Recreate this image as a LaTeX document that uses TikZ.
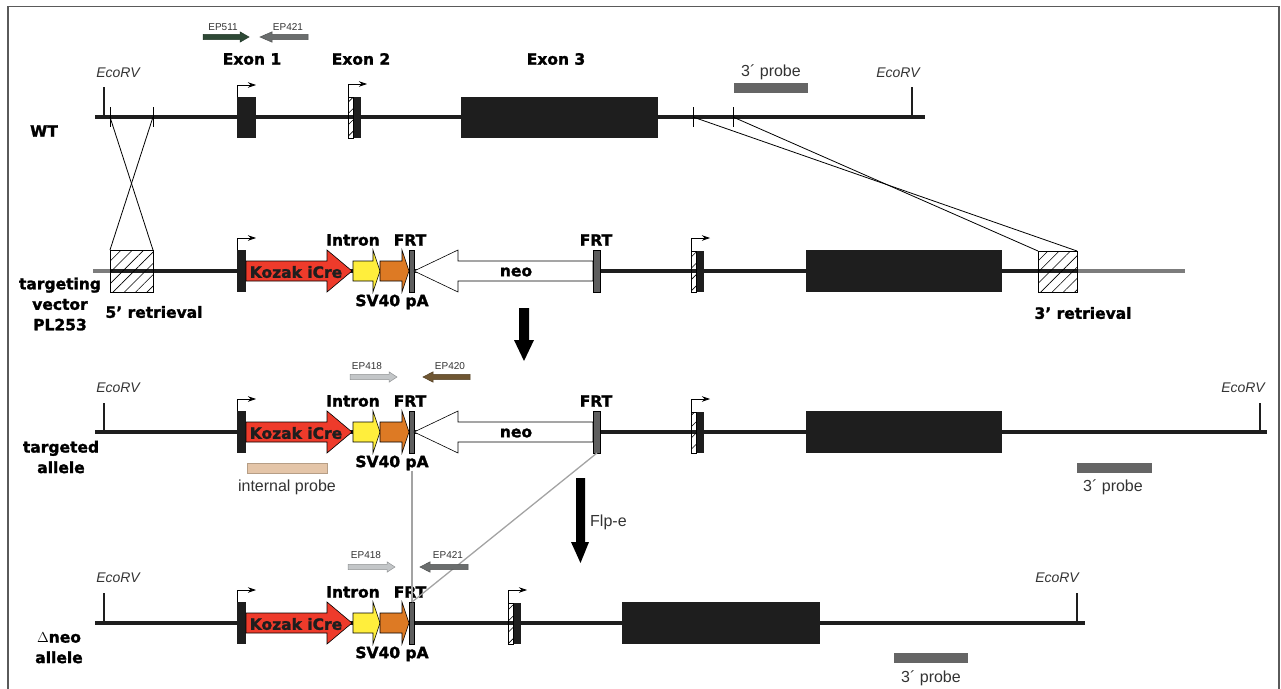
\documentclass[tikz,border=0pt]{standalone}
\usepackage{fontspec}
\setmainfont{Liberation Sans}
\newfontfamily\heavyfont{DejaVu Sans Bold}[FakeBold=1.6]
\usepackage{tikz}
\usetikzlibrary{arrows.meta,patterns.meta}

\definecolor{dnaC}{HTML}{1E1E1E}
\definecolor{frameC}{HTML}{5A5A5A}
\definecolor{creC}{HTML}{EE3B2B}
\definecolor{intronC}{HTML}{FFEE3C}
\definecolor{pAC}{HTML}{DD7A24}
\definecolor{frtC}{HTML}{5E5E5E}
\definecolor{vecC}{HTML}{7C7C7C}
\definecolor{probeC}{HTML}{656565}
\definecolor{intprobeC}{HTML}{E4C5A8}
\definecolor{linkC}{HTML}{A3A3A3}
\definecolor{epgreen}{HTML}{2E4936}
\definecolor{epgrey}{HTML}{6A6D6D}
\definecolor{eplight}{HTML}{C3C6C8}
\definecolor{epbrown}{HTML}{6F5632}
\definecolor{labC}{HTML}{333333}

% block arrow: tail x, head base x, tip x, centre y, fill
\newcommand\blockarr[5]{%
  \filldraw[fill=#5, draw=black, line width=0.6pt] (#1,#4-10) -- (#2,#4-10) -- (#2,#4-21) -- (#3,#4) -- (#2,#4+21) -- (#2,#4+10) -- (#1,#4+10) -- cycle;}
% primer: tail x, head base x, tip x, y, colour
\newcommand\primer[5]{%
  \filldraw[fill=#5, draw=#5!75!black, line width=0.5pt] (#1,#4-2.7) -- (#2,#4-2.7) -- (#2,#4-5.2) -- (#3,#4) -- (#2,#4+5.2) -- (#2,#4+2.7) -- (#1,#4+2.7) -- cycle;}
% exon 2 (hatched 5' part + black part + promoter), x and line y
\newcommand\exontwo[2]{%
  \filldraw[hatchbox] (#1,#2-20) rectangle (#1+5.5,#2+21);
  \fill[dnaC] (#1+5.5,#2-20) rectangle (#1+13,#2+21);
  \draw[prom] (#1,#2-20) -- ++(0,-13) -- ++(19,0);}

\begin{document}
\begin{tikzpicture}[x=1pt, y=-1pt,
  dna/.style={line width=4pt, draw=dnaC},
  hatchbox/.style={draw=black, line width=0.6pt, pattern={Lines[angle=45,distance=8pt,line width=0.6pt]}},
  site/.style={line width=1.2pt, draw=dnaC},
  cross/.style={line width=0.8pt, draw=black},
  prom/.style={line width=0.8pt, -{Stealth[length=8pt,width=5.5pt]}},
  link/.style={line width=1.3pt, draw=linkC},
  heavy/.style={font=\heavyfont\fontsize{15.5}{20.5}\selectfont, inner sep=0pt, align=center},
  sitelab/.style={font=\itshape\fontsize{14}{16}\selectfont, text=labC, inner sep=0pt},
  eplab/.style={font=\fontsize{10}{12}\selectfont, text=labC, inner sep=0pt},
  probelab/.style={font=\fontsize{16}{18}\selectfont, text=labC, inner sep=0pt}]
  \useasboundingbox (0,0) rectangle (1281,688);
  \draw[line width=1.5pt, draw=frameC] (8,700) -- (8,6.5) -- (1279,6.5) -- (1279,700);

  % WT allele
  \draw[dna] (95,117) -- (925,117);
  \draw[site] (104,117) -- (104,87);
  \draw[site] (912,117) -- (912,87);
  \node[sitelab] (rv1) at (118,73) {EcoRV};
  \node[sitelab] (rv2) at (898,73) {EcoRV};
  \fill[dnaC] (237,97) rectangle (256,138);
  \draw[prom] (237,97) -- ++(0,-12) -- ++(19,0);
  \exontwo{348}{117}
  \fill[dnaC] (461,97) rectangle (658,138);
  \node[heavy] (ex1) at (252,59) {Exon 1};
  \node[heavy] (ex2) at (361,59) {Exon 2};
  \node[heavy] (ex3) at (556,59) {Exon 3};
  \primer{203}{240}{249}{37}{epgreen}
  \primer{308}{272}{260}{37}{epgrey}
  \node[eplab] (ep511) at (223,27) {EP511};
  \node[eplab] (ep421a) at (288,27) {EP421};
  \fill[probeC] (734,83) rectangle (808,93);
  \node[probelab] (pr1) at (771,72) {3´ probe};
  \node[heavy] (wt) at (44,131) {WT};

  % homology arms
  \foreach \x in {110,153,693,733} \draw[cross] (\x,107) -- (\x,127);
  \coordinate (t5a) at (110,117); \coordinate (t5b) at (153,117);
  \coordinate (t3a) at (693,117); \coordinate (t3b) at (733,117);
  \coordinate (r5a) at (110,250); \coordinate (r5b) at (153,250);
  \coordinate (r3a) at (1038,251); \coordinate (r3b) at (1077,251);
  \draw[cross] (t5a) -- (r5b); \draw[cross] (t5b) -- (r5a);
  \draw[cross] (t3a) -- (r3b); \draw[cross] (t3b) -- (r3a);

  % lines of the other alleles
  \draw[line width=4pt, draw=vecC] (93,271) -- (1185,271);
  \draw[dna] (110,271) -- (1077,271);
  \draw[dna] (95,432) -- (1267,432);
  \draw[dna] (95,623) -- (1085,623);

  % targeting vector
  \filldraw[hatchbox] (110,250) rectangle (153,292);
  \filldraw[hatchbox] (1038,251) rectangle (1077,292);
  \node[heavy] (ret5) at (154,312) {5’ retrieval};
  \node[heavy] (ret3) at (1083,313) {3’ retrieval};
  \node[heavy] (tv) at (60,304) {targeting\\vector\\PL253};

  % Cre cassette, the same in three alleles
  \foreach \y in {271,432,623} {
    \fill[dnaC] (237,\y-21) rectangle (246,\y+21);
    \draw[prom] (237,\y-21) -- ++(0,-12) -- ++(19,0);
    \blockarr{246}{327}{352}{\y}{creC}
    \blockarr{353}{373}{380}{\y}{intronC}
    \blockarr{380}{402}{409}{\y}{pAC}
    \filldraw[fill=frtC, draw=black, line width=0.6pt] (409,\y-21) rectangle (414,\y+21);
    \coordinate (frtA\y) at (412,\y+21);
    \coordinate (frtAtop\y) at (412,\y-21);
    \node[heavy, text=dnaC] (cre\y) at (296,\y+1) {Kozak iCre};
    \node[heavy] (in\y) at (353,\y-31) {Intron};
    \node[heavy] (frt\y) at (410,\y-31) {FRT};
    \node[heavy] (sv\y) at (392,\y+31) {SV40 pA};
  }
  % neo cassette
  \foreach \y in {271,432} {
    \blockarr{593}{458}{414}{\y}{white}
    \filldraw[fill=frtC, draw=black, line width=0.6pt] (593,\y-21) rectangle (600,\y+21);
    \coordinate (frtB\y) at (597,\y+21);
    \node[heavy] (neo\y) at (516,\y+1) {neo};
    \node[heavy] (frtb\y) at (596,\y-31) {FRT};
    \exontwo{691}{\y}
    \fill[dnaC] (806,\y-21) rectangle (1002,\y+21);
  }
  \fill (519,308) -- (529,308) -- (529,340) -- (534,340) -- (524,361) -- (514,340) -- (519,340) -- cycle;

  % targeted allele
  \draw[site] (104,432) -- (104,403);
  \draw[site] (1260,432) -- (1260,403);
  \node[sitelab] (rv3) at (118,388) {EcoRV};
  \node[sitelab] (rv4) at (1243,388) {EcoRV};
  \primer{350}{389}{397}{377}{eplight}
  \primer{470}{433}{423}{377}{epbrown}
  \node[eplab] (ep418a) at (367,366) {EP418};
  \node[eplab] (ep420) at (450,366) {EP420};
  \fill[intprobeC] (247,463) rectangle (327,473);
  \draw[intprobeC!80!black, line width=0.5pt] (247,463) rectangle (327,473);
  \node[probelab] (ipr) at (287,487) {internal probe};
  \fill[probeC] (1077,463) rectangle (1152,473);
  \node[probelab] (pr2) at (1113,487) {3´ probe};
  \node[heavy] (ta) at (61,457) {targeted\\allele};

  % Flp-e deletion
  \draw[link] (frtA432 |- sv432.south) -- (frtAtop623);
  \draw[link] (frtB432) -- (frtAtop623);
  \fill (576,478) -- (585,478) -- (585,542) -- (589,542) -- (580.5,563) -- (571,542) -- (576,542) -- cycle;
  \node[probelab, anchor=west] (flp) at (590,522) {Flp-e};

  % delta neo allele
  \draw[site] (104,623) -- (104,593);
  \draw[site] (1077,623) -- (1077,593);
  \node[sitelab] (rv5) at (118,578) {EcoRV};
  \node[sitelab] (rv6) at (1057,578) {EcoRV};
  \primer{348}{387}{395}{567}{eplight}
  \primer{468}{430}{420}{567}{epgrey}
  \node[eplab] (ep418b) at (366,555) {EP418};
  \node[eplab] (ep421b) at (448,555) {EP421};
  \exontwo{508}{623}
  \fill[dnaC] (622,602) rectangle (820,644);
  \fill[probeC] (894,653) rectangle (968,663);
  \node[probelab] (pr3) at (931,678) {3´ probe};
  \node[heavy] (dn) at (59,648) {$\Delta$neo\\allele};
\end{tikzpicture}
\end{document}
